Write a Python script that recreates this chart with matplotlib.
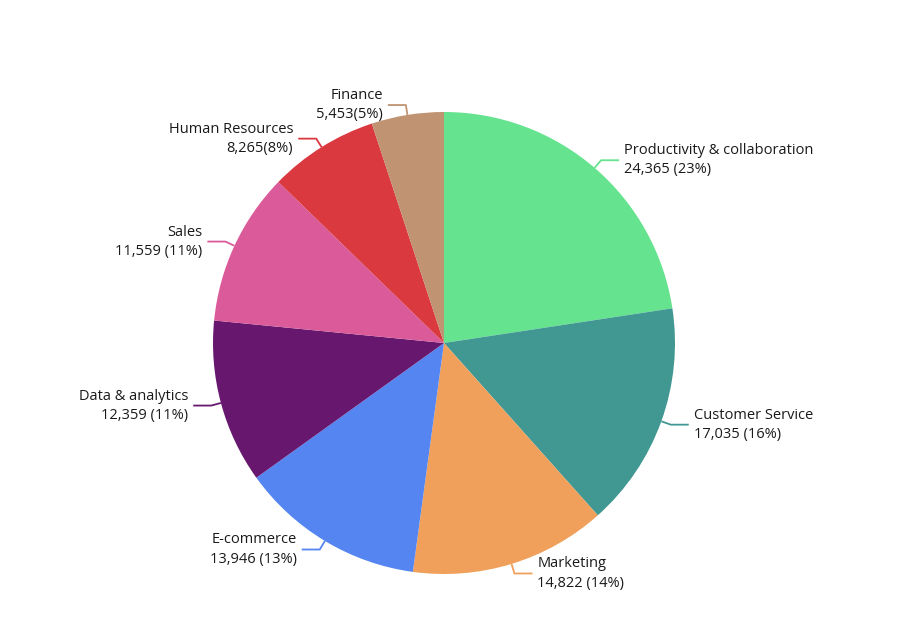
import numpy as np
import matplotlib
matplotlib.use("Agg")
import matplotlib.pyplot as plt

categories = ["Productivity & collaboration", "Customer Service", "Marketing", "E-commerce",
              "Data & analytics", "Sales", "Human Resources", "Finance"]
values = [24365, 17035, 14822, 13946, 12359, 11559, 8265, 5453]
value_labels = ["24,365 (23%)", "17,035 (16%)", "14,822 (14%)", "13,946 (13%)",
                "12,359 (11%)", "11,559 (11%)", "8,265(8%)", "5,453(5%)"]
colors = ["#66E38F", "#419893", "#F0A05A", "#5585F0", "#67186E", "#DB5B9A", "#DA3940", "#C09372"]

W, H = 897, 639
cx, cy, R = 444, 343, 231
fig = plt.figure(figsize=(W / 100, H / 100), dpi=100)
ax = fig.add_axes([0, 0, 1, 1])

wedges, _ = ax.pie(values, colors=colors, startangle=90, counterclock=False,
                   radius=1.0, center=(0, 0), wedgeprops=dict(linewidth=0))
ax.set_xlim(-cx / R, (W - cx) / R)
ax.set_ylim(-(H - cy) / R, cy / R)
ax.set_aspect("auto")
ax.axis("off")

px = 1.0 / R
for w, cat, lab, col in zip(wedges, categories, value_labels, colors):
    ang = np.deg2rad((w.theta1 + w.theta2) / 2)
    x0, y0 = np.cos(ang), np.sin(ang)
    x1, y1 = (1 + 10 * px) * x0, (1 + 10 * px) * y0
    side = 1 if x0 >= 0 else -1
    x2 = x1 + side * 18 * px
    ax.plot([x0, x1, x2], [y0, y1, y1], color=col, lw=1.3, solid_capstyle="butt")
    ax.text(x2 + side * 5 * px, y1, cat + "\n" + lab, ha="left" if side > 0 else "right",
            va="center", fontsize=10.5, color="#1a1a1a", family=["Open Sans", "DejaVu Sans"],
            linespacing=1.37, multialignment="left" if side > 0 else "right")

fig.savefig("out.png", dpi=100, facecolor="white")
